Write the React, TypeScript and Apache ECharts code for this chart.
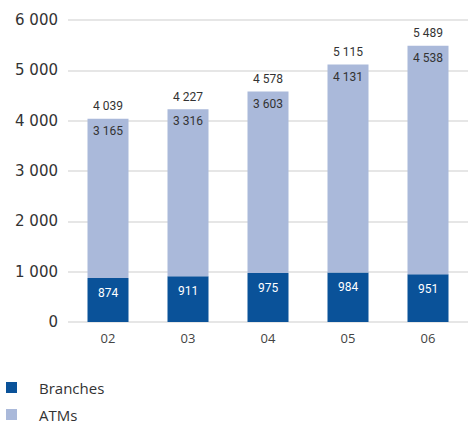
import React, { useEffect, useRef } from "react";
import * as echarts from "echarts";

const years = ["02", "03", "04", "05", "06"];
const branches = [874, 911, 975, 984, 951];
const atms = [3165, 3316, 3603, 4131, 4538];
const totals = [4039, 4227, 4578, 5115, 5489];

const fmt = (v: number) => {
  const s = String(Math.round(v));
  return s.replace(/\B(?=(\d{3})+(?!\d))/g, " ");
};

const LABEL_FONT = "'Liberation Sans Narrow', 'Roboto', sans-serif";

export default function App() {
  const ref = useRef<HTMLDivElement>(null);
  useEffect(() => {
    document.body.style.margin = "0";
    const chart = echarts.init(ref.current!, undefined, { renderer: "svg" });
    chart.setOption({
      animation: false,
      grid: { left: 68, width: 405, top: 20, bottom: 103 },
      legend: {
        orient: "vertical",
        left: 6,
        top: 380,
        padding: 0,
        itemWidth: 11,
        itemHeight: 11,
        itemGap: 12,
        icon: "rect",
        data: ["Branches", "ATMs"],
        textStyle: {
          fontFamily: "'Open Sans', sans-serif",
          fontSize: 15,
          lineHeight: 15,
          color: "#333",
          padding: [0, 0, 0, 17],
        },
      },
      xAxis: {
        type: "category",
        data: years,
        axisLine: { show: false },
        axisTick: { show: false },
        axisLabel: {
          color: "#444",
          fontSize: 13,
          margin: 9,
          fontFamily: "'Open Sans', sans-serif",
        },
      },
      yAxis: {
        type: "value",
        min: 0,
        max: 6000,
        interval: 1000,
        axisLine: { show: false },
        axisTick: { show: false },
        splitLine: { lineStyle: { color: "#dedede", width: 1.5 } },
        axisLabel: {
          formatter: (v: number) => fmt(v),
          color: "#333",
          fontSize: 15,
          margin: 10,
          fontFamily: "'DejaVu Sans', sans-serif",
        },
      },
      series: [
        {
          name: "Branches",
          type: "bar",
          stack: "s",
          barWidth: 41,
          data: branches,
          itemStyle: { color: "#0a5299" },
          label: {
            show: true,
            position: "insideTop",
            distance: 9,
            color: "#ffffff",
            fontSize: 12,
            fontFamily: LABEL_FONT,
            formatter: (p: any) => fmt(p.value),
          },
        },
        {
          name: "ATMs",
          type: "bar",
          stack: "s",
          barWidth: 41,
          data: atms,
          itemStyle: { color: "#aab9da" },
          label: {
            show: true,
            position: "insideTop",
            distance: 6,
            color: "#333",
            fontSize: 12,
            fontFamily: LABEL_FONT,
            formatter: (p: any) => fmt(p.value),
          },
        },
        {
          name: "Total",
          type: "line",
          data: totals,
          symbol: "circle",
          symbolSize: 1,
          showSymbol: true,
          itemStyle: { color: "transparent" },
          lineStyle: { color: "transparent", width: 0 },
          silent: true,
          label: {
            show: true,
            position: "top",
            distance: 6,
            color: "#333",
            fontSize: 12,
            fontFamily: LABEL_FONT,
            formatter: (p: any) => fmt(p.value),
          },
        },
      ],
    });
    return () => chart.dispose();
  }, []);
  return (
    <div
      ref={ref}
      style={{ position: "absolute", left: 0, top: 0, width: 468, height: 425 }}
    />
  );
}
